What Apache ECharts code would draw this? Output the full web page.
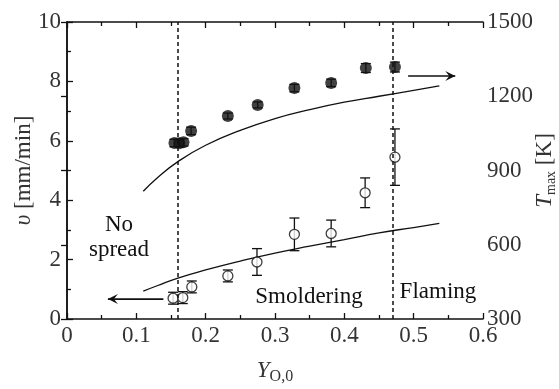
<!DOCTYPE html>
<html>
<head>
<meta charset="utf-8">
<script src="https://cdn.jsdelivr.net/npm/echarts@6/dist/echarts.min.js"></script>
<style>
  html, body { margin: 0; padding: 0; background: #fff; }
  #container { width: 559px; height: 389px; }
</style>
</head>
<body>
<div id="container"></div>
<script>
var dom = document.getElementById('container');
var myChart = echarts.init(dom, null, { renderer: 'canvas' });

// spread rate v (open circles, left axis)
const vX = [0.153, 0.167, 0.180, 0.232, 0.274, 0.328, 0.381, 0.430, 0.473];
const vY = [0.70, 0.72, 1.08, 1.45, 1.92, 2.85, 2.88, 4.25, 5.45];
const vErr = [0.2, 0.2, 0.2, 0.2, 0.45, 0.55, 0.45, 0.5, 0.95];

// max temperature Tmax (filled points, right axis)
const tX = [0.155, 0.162, 0.168, 0.179, 0.232, 0.275, 0.328, 0.381, 0.431, 0.473];
const tY = [1011, 1010, 1014, 1060, 1120, 1165, 1233, 1254, 1314, 1318];
const tErr = [15, 15, 15, 15, 12, 12, 15, 15, 18, 20];

// model curves
const fitX = [0.11, 0.13, 0.16, 0.20, 0.25, 0.30, 0.35, 0.40, 0.45, 0.50, 0.537];
const fitV = [0.94, 1.12, 1.38, 1.65, 1.95, 2.22, 2.45, 2.67, 2.90, 3.08, 3.22];
const fitT = [816, 870, 936, 1002, 1062, 1110, 1146, 1176, 1200, 1224, 1242];

// regime boundaries
const boundaries = [0.157, 0.474];

// arrows [x0, x1, y] in left-axis units
const arrows = [[0.492, 0.560, 8.18], [0.139, 0.059, 0.67]];

// region labels [x, y, text]
const regionLabels = [
  [0.075, 3.16, 'No'],
  [0.075, 2.32, 'spread'],
  [0.349, 0.74, 'Smoldering'],
  [0.535, 0.90, 'Flaming']
];

const font = 'Liberation Serif';
const fs = 23;
const black = '#111';
const grey = '#333';

function pairs(xs, ys) { return xs.map((x, i) => [x, ys[i]]); }
function errData(xs, ys, es) { return xs.map((x, i) => [x, ys[i] - es[i], ys[i] + es[i]]); }

function errorBars(params, api) {
  var x = api.value(0);
  var lo = api.coord([x, api.value(1)]);
  var hi = api.coord([x, api.value(2)]);
  var cap = 5;
  var st = { stroke: black, lineWidth: 1.3 };
  return {
    type: 'group',
    children: [
      { type: 'line', shape: { x1: lo[0], y1: lo[1], x2: hi[0], y2: hi[1] }, style: st },
      { type: 'line', shape: { x1: lo[0] - cap, y1: lo[1], x2: lo[0] + cap, y2: lo[1] }, style: st },
      { type: 'line', shape: { x1: hi[0] - cap, y1: hi[1], x2: hi[0] + cap, y2: hi[1] }, style: st }
    ]
  };
}

function drawArrow(params, api) {
  var a = api.coord([api.value(0), api.value(2)]);
  var b = api.coord([api.value(1), api.value(2)]);
  var dir = b[0] > a[0] ? 1 : -1;
  var h = 10, w = 5;
  var st = { stroke: black, lineWidth: 1.6 };
  return {
    type: 'group',
    children: [
      { type: 'line', shape: { x1: a[0], y1: a[1], x2: b[0], y2: b[1] }, style: st },
      { type: 'polygon', shape: { points: [[b[0] - dir * h, b[1] - w], [b[0], b[1]], [b[0] - dir * h, b[1] + w], [b[0] - dir * h * 0.6, b[1]]] }, style: { fill: black } }
    ]
  };
}

function drawText(params, api) {
  var p = api.coord([api.value(0), api.value(1)]);
  return {
    type: 'text',
    x: p[0], y: p[1],
    style: {
      text: regionLabels[params.dataIndex][2],
      fontFamily: font,
      fontSize: fs,
      fill: black,
      align: 'center',
      verticalAlign: 'middle'
    }
  };
}

const axisLine = { show: true, lineStyle: { color: black, width: 1.5 } };
const tickStyle = { color: black, width: 1.3 };
const labelStyle = { color: grey, fontSize: fs, fontFamily: font };

option = {
  animation: false,
  backgroundColor: '#fff',
  textStyle: { fontFamily: font },
  grid: { left: 67, right: 76, top: 22, bottom: 70, containLabel: false, outerBoundsMode: 'none' },
  xAxis: [{
    type: 'value', min: 0, max: 0.6, interval: 0.1, position: 'bottom',
    axisLine: axisLine,
    axisTick: { inside: true, length: 6, lineStyle: tickStyle },
    minorTick: { show: true, splitNumber: 2, length: 4, lineStyle: tickStyle },
    splitLine: { show: false },
    axisLabel: Object.assign({ margin: 5, formatter: v => v === 0 ? '0' : v.toFixed(1) }, labelStyle),
    name: '{i|Y}{s|O,0}', nameLocation: 'middle', nameGap: 38, nameMoveOverlap: false,
    nameTextStyle: { rich: {
      i: { fontFamily: font, fontStyle: 'italic', fontSize: fs, color: grey },
      s: { fontFamily: font, fontSize: 16, color: grey, padding: [12, 0, 0, 0] }
    } }
  }, {
    type: 'value', min: 0, max: 0.6, interval: 0.1, position: 'top',
    axisLine: axisLine,
    axisTick: { inside: true, length: 6, lineStyle: tickStyle },
    minorTick: { show: true, splitNumber: 2, length: 4, lineStyle: tickStyle },
    splitLine: { show: false },
    axisLabel: { show: false }
  }],
  yAxis: [{
    type: 'value', min: 0, max: 10, interval: 2, position: 'left',
    axisLine: axisLine,
    axisTick: { inside: true, length: 6, lineStyle: tickStyle },
    minorTick: { show: true, splitNumber: 2, length: 4, lineStyle: tickStyle },
    splitLine: { show: false },
    axisLabel: Object.assign({ margin: 6 }, labelStyle),
    name: '{i|υ} [mm/min]', nameLocation: 'middle', nameGap: 32, nameRotate: 90, nameMoveOverlap: false,
    nameTextStyle: { fontSize: fs, fontFamily: font, color: grey, rich: {
      i: { fontFamily: font, fontStyle: 'italic', fontSize: fs, color: grey }
    } }
  }, {
    type: 'value', min: 300, max: 1500, interval: 300, position: 'right',
    axisLine: axisLine,
    axisTick: { inside: true, length: 6, lineStyle: tickStyle },
    splitLine: { show: false },
    axisLabel: Object.assign({ margin: 4, formatter: v => String(v) }, labelStyle),
    name: '{i|T}{s|max} [K]', nameLocation: 'middle', nameGap: 49, nameRotate: 90, nameMoveOverlap: false,
    nameTextStyle: { fontSize: fs, fontFamily: font, color: grey, rich: {
      i: { fontFamily: font, fontStyle: 'italic', fontSize: fs, color: grey },
      s: { fontFamily: font, fontSize: 14, color: grey, padding: [12, 0, 0, 0] }
    } }
  }],
  series: [
    {
      type: 'line', data: pairs(fitX, fitT), yAxisIndex: 1, smooth: true,
      showSymbol: false, lineStyle: { color: black, width: 1.3 },
      markLine: {
        silent: true, symbol: ['none', 'none'], label: { show: false },
        lineStyle: { color: black, type: [4, 3], width: 1.5 },
        data: boundaries.map(b => ({ xAxis: b }))
      }
    },
    {
      type: 'line', data: pairs(fitX, fitV), smooth: true,
      showSymbol: false, lineStyle: { color: black, width: 1.3 }
    },
    {
      type: 'custom', yAxisIndex: 1, renderItem: errorBars,
      data: errData(tX, tY, tErr), z: 3
    },
    {
      type: 'scatter', yAxisIndex: 1, data: pairs(tX, tY), symbol: 'circle',
      symbolSize: 12, itemStyle: { color: black }, z: 4
    },
    {
      type: 'custom', renderItem: errorBars,
      data: errData(vX, vY, vErr), z: 3
    },
    {
      type: 'scatter', data: pairs(vX, vY), symbol: 'circle', symbolSize: 10,
      itemStyle: { color: '#fff', borderColor: black, borderWidth: 1.3 }, z: 4
    },
    {
      type: 'custom', renderItem: drawArrow, data: arrows, z: 5
    },
    {
      type: 'custom', renderItem: drawText, data: regionLabels.map(r => [r[0], r[1]]), z: 5
    }
  ]
};

myChart.setOption(option);
window.addEventListener('resize', myChart.resize);
</script>
</body>
</html>
